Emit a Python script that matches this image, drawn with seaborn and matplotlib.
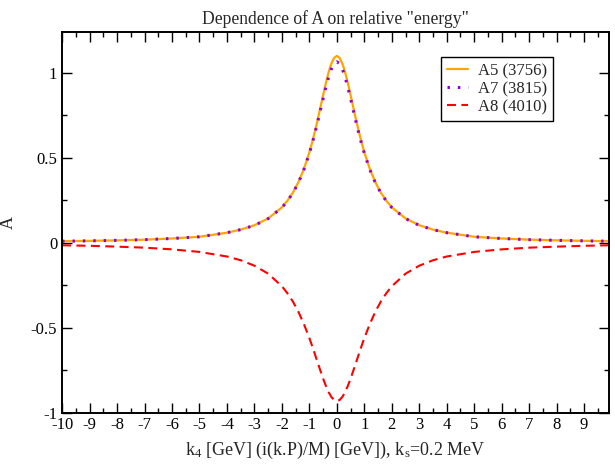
import matplotlib
matplotlib.use("Agg")
import matplotlib.pyplot as plt
from matplotlib.ticker import MultipleLocator, FixedLocator
import seaborn as sns
import pandas as pd

x_k4 = [-10, -9, -8, -7, -6, -5, -4, -3.5, -3, -2.5, -2, -1.8, -1.6, -1.4, -1.2,
        -1.0, -0.9, -0.8, -0.7, -0.6, -0.5, -0.4, -0.3, -0.2, -0.1, 0.0,
        0.1, 0.2, 0.3, 0.4, 0.5, 0.6, 0.7, 0.8, 0.9, 1.0,
        1.2, 1.4, 1.6, 1.8, 2, 2.5, 3, 3.5, 4, 5, 6, 7, 8, 9, 9.9]

a5_3756 = [0.010, 0.012, 0.015, 0.019, 0.026, 0.036, 0.060, 0.078, 0.104, 0.144, 0.209,
           0.248, 0.296, 0.357, 0.435,
           0.533, 0.591, 0.655, 0.723, 0.796, 0.869, 0.940, 1.004, 1.055, 1.088, 1.100,
           1.088, 1.055, 1.004, 0.940, 0.869, 0.796, 0.723, 0.655, 0.591, 0.533,
           0.435, 0.357, 0.296, 0.248, 0.209, 0.144, 0.104, 0.078, 0.060, 0.036,
           0.026, 0.019, 0.015, 0.012, 0.010]

a7_3815 = [0.010, 0.012, 0.015, 0.019, 0.026, 0.036, 0.060, 0.078, 0.103, 0.143, 0.208,
           0.246, 0.294, 0.354, 0.431,
           0.527, 0.583, 0.644, 0.710, 0.779, 0.848, 0.915, 0.975, 1.023, 1.054, 1.065,
           1.054, 1.023, 0.975, 0.915, 0.848, 0.779, 0.710, 0.644, 0.583, 0.527,
           0.431, 0.354, 0.294, 0.246, 0.208, 0.143, 0.103, 0.078, 0.060, 0.036,
           0.026, 0.019, 0.015, 0.012, 0.010]

a8_4010 = [-0.014, -0.017, -0.022, -0.028, -0.038, -0.053, -0.080, -0.102, -0.134, -0.181, -0.255,
           -0.296, -0.345, -0.405, -0.477,
           -0.560, -0.606, -0.654, -0.703, -0.751, -0.798, -0.841, -0.878, -0.906, -0.924, -0.930,
           -0.924, -0.906, -0.878, -0.841, -0.798, -0.751, -0.703, -0.654, -0.606, -0.560,
           -0.477, -0.405, -0.345, -0.296, -0.255, -0.181, -0.134, -0.102, -0.080, -0.053,
           -0.038, -0.028, -0.022, -0.017, -0.014]

series_names = ["A5 (3756)", "A7 (3815)", "A8 (4010)"]
x_ticks = list(range(-10, 10))
y_ticks = [-1, -0.5, 0, 0.5, 1]
y_tick_labels = ["-1", "-0.5", "0", "0.5", "1"]

sns.set_style("ticks")
plt.rcParams["font.family"] = ["Liberation Serif", "DejaVu Serif"]
plt.rcParams["mathtext.fontset"] = "custom"
plt.rcParams["mathtext.rm"] = "Liberation Serif"
plt.rcParams["mathtext.default"] = "regular"
plt.rcParams["axes.unicode_minus"] = False

fig = plt.figure(figsize=(6.15, 4.65), dpi=100)
ax = fig.add_axes([0.101, 0.112, 0.889, 0.819])

sns.lineplot(x=x_k4, y=a5_3756, ax=ax, color="#FFA500", linewidth=1.6,
             label=series_names[0], estimator=None)
sns.lineplot(x=x_k4, y=a7_3815, ax=ax, color="#9400D3", linewidth=2.2,
             label=series_names[1], estimator=None, linestyle=(0, (0.8, 2.6)))
sns.lineplot(x=x_k4, y=a8_4010, ax=ax, color="#FF0000", linewidth=1.5,
             label=series_names[2], estimator=None, linestyle=(0, (4.3, 2.6)))

ax.set_xlim(-10, 9.9)
ax.set_ylim(-1, 1.24)
ax.xaxis.set_major_locator(FixedLocator(x_ticks))
ax.xaxis.set_minor_locator(MultipleLocator(0.5))
ax.set_yticks(y_ticks)
ax.set_yticklabels(y_tick_labels)
ax.yaxis.set_minor_locator(MultipleLocator(0.25))
ax.tick_params(which="both", direction="in", top=True, right=True,
               labelsize=12, colors="black", width=1.0)
ax.tick_params(which="major", length=7)
ax.tick_params(which="minor", length=3.5)
ax.tick_params(axis="x", which="major", pad=3)
for sp in ax.spines.values():
    sp.set_linewidth(1.4)
    sp.set_color("black")
    sp.set_visible(True)

ax.set_title('Dependence of A on relative "energy"', fontsize=12.7, pad=6)
ax.set_xlabel("k$_4$ [GeV] (i(k.P)/M) [GeV]), k$_s$=0.2 MeV", fontsize=13, labelpad=5)
ax.set_ylabel("A", fontsize=13, labelpad=10)

leg = ax.legend(loc="upper right", bbox_to_anchor=(0.898, 0.934), fontsize=12,
                frameon=True, fancybox=False, handlelength=1.25, handletextpad=0.6,
                borderpad=0.35, labelspacing=0.12, borderaxespad=0, framealpha=1)
leg.get_frame().set_edgecolor("black")
leg.get_frame().set_linewidth(1.0)

fig.savefig("out.png", dpi=100)
